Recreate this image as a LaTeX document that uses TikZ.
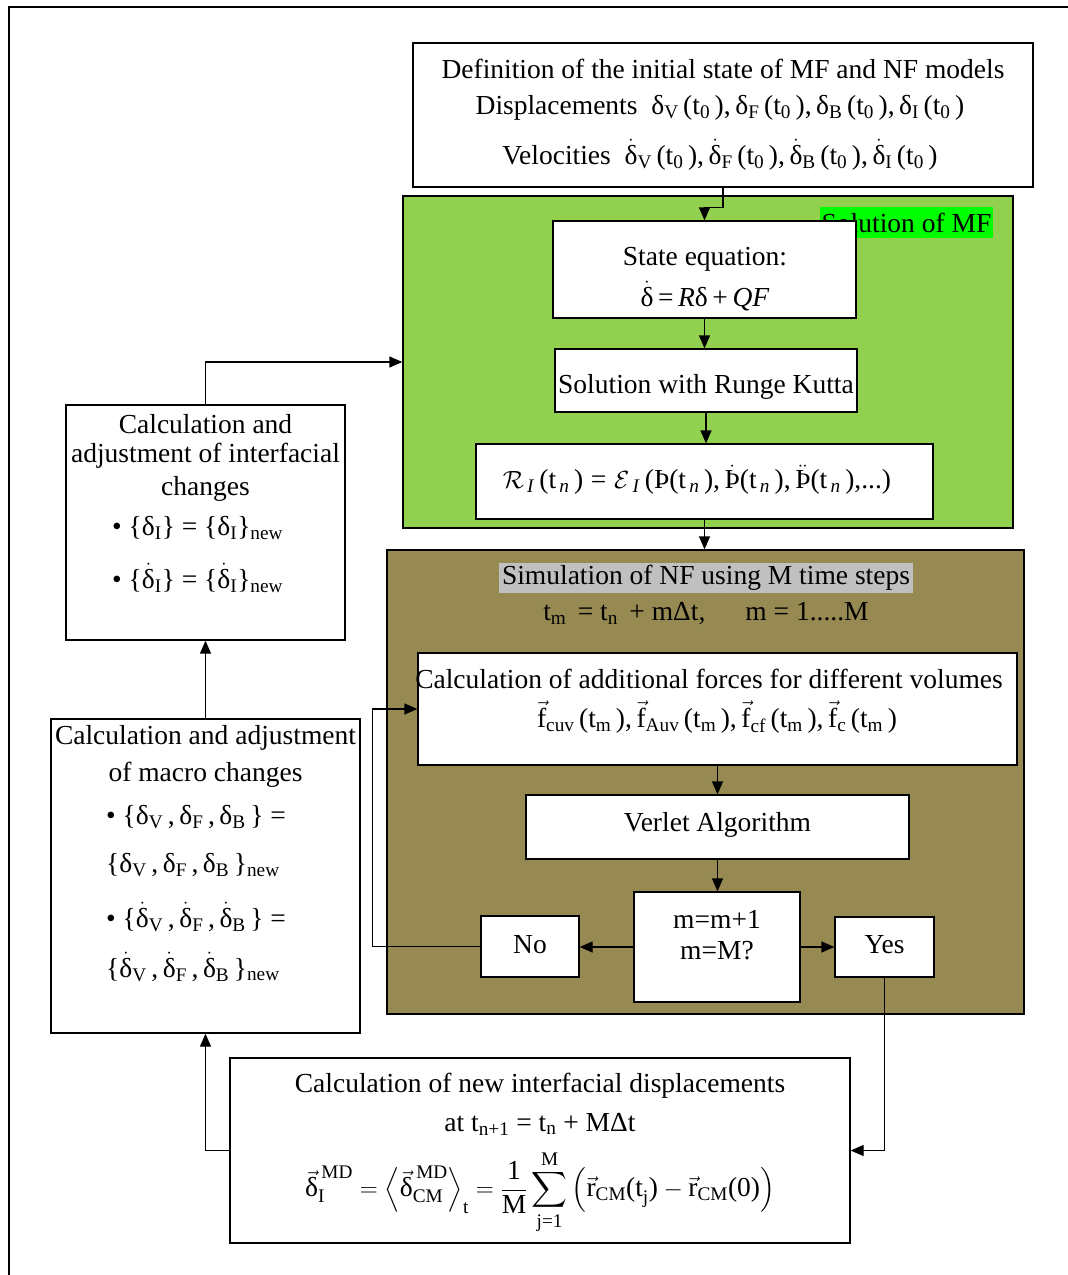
\documentclass[tikz,border=0pt]{standalone}
\usepackage{amsmath}
\usepackage{fontspec}
\setmainfont{Liberation Serif}
\newfontfamily\tnr{Liberation Serif}
\usetikzlibrary{arrows.meta,fit,calc}
\definecolor{mfgreen}{RGB}{146,208,80}
\definecolor{lblgreen}{RGB}{0,255,0}
\definecolor{nfbrown}{RGB}{150,138,82}
\definecolor{lblgray}{RGB}{192,192,192}
\newcommand{\sbs}[1]{\textsubscript{#1}}
\newcommand{\dd}{$\dot{\text{δ}}$}
\newcommand{\vf}{$\vec{\text{f}}$}
\newcommand{\tz}{(t\sbs{0}\,)}
\newcommand{\tmm}{\,(t\sbs{m}\,)}
\newcommand{\tn}{(t\sbs{\,\textit{n}}\,)}
\begin{document}
\begin{tikzpicture}[x=1pt,y=-1pt,
  box/.style={draw=black, line width=1.3pt, fill=white, inner sep=0pt},
  txt/.style={font=\tnr\fontsize{27.5}{33}\selectfont, inner sep=0pt, align=center},
  arr/.style={line width=1.3pt, -{Triangle[length=13pt,width=11pt]}},
  ln/.style={line width=1.3pt}]
\useasboundingbox (0,0) rectangle (1068,1275);
\draw[ln] (9,1275) -- (9,7) -- (1068,7);

% top box
\node[box, fit={(413,43) (1033,187)}] (top) {};
\node[txt] (topa) at (723,69) {Definition of the initial state of MF and NF models};
\node[txt] (topb) at (720,108) {Displacements \ δ\sbs{V}\,\tz,\,δ\sbs{F}\,\tz,\,δ\sbs{B}\,\tz,\,δ\sbs{I}\,\tz};
\node[txt] (topc) at (720,155) {Velocities \ \dd\sbs{V}\,\tz,\,\dd\sbs{F}\,\tz,\,\dd\sbs{B}\,\tz,\,\dd\sbs{I}\,\tz};

% MF green region
\node[box, fill=mfgreen, fit={(403,196) (1013,528)}] (mf) {};
\node[txt, fill=lblgreen, minimum width=173pt, minimum height=31pt] (mflbl) at (906.5,222.5) {Solution of MF};
\node[box, fit={(553,221) (856,318)}] (state) {};
\node[txt] (statea) at (705,259) {State equation:};
\node[txt] (stateb) at (705,296) {\dd\,=\,\textit{R}δ\,+\,\textit{QF}};
\node[box, fit={(555,349) (857,412)}] (runge) {};
\node[txt] (runget) at (706,387) {Solution with Runge Kutta};
\node[box, fit={(476,444) (933,519)}] (ri) {};
\node[txt] (rit) at (697,480) {$\mathcal{R}$\sbs{\,\textit{I}}\,\tn\;=\;$\mathcal{E}$\sbs{\,\textit{I}}\,(Þ\tn,\,$\dot{\text{Þ}}$\tn,\,$\ddot{\text{Þ}}$\tn,...)};

% NF brown region
\node[box, fill=nfbrown, fit={(387,550) (1024,1014)}] (nf) {};
\node[txt, fill=lblgray, minimum width=414pt, minimum height=30pt] (nflbl) at (706,578) {Simulation of NF using M time steps};
\node[txt] (nftm) at (706,614) {t\sbs{m}\, = t\sbs{n}\, + mΔt,\hspace{40pt}m = 1.....M};
\node[box, fit={(418,653) (1017,765)}] (forces) {};
\node[txt] (forcesa) at (709,679) {Calculation of additional forces for different volumes};
\node[txt] (forcesb) at (717,717) {\vf\sbs{cuv}\tmm,\,\vf\sbs{Auv}\tmm,\,\vf\sbs{cf}\tmm,\,\vf\sbs{c}\tmm};
\node[box, fit={(526,795) (909,859)}] (verlet) {};
\node[txt] (verlett) at (717.5,825) {Verlet Algorithm};
\node[box, fit={(634,892) (800,1002)}] (mbox) {};
\node[txt] (mboxa) at (717,919) {m=m+1};
\node[txt] (mboxb) at (717,951) {m=M?};
\node[box, fit={(481,916) (579,977)}] (no) {};
\node[txt] (not) at (530,945) {No};
\node[box, fit={(835,917) (934,977)}] (yes) {};
\node[txt] (yest) at (884.5,945) {Yes};

% bottom box
\node[box, fit={(230,1058) (850,1243)}] (bottom) {};
\node[txt] (bota) at (540,1086) {Calculation of new interfacial displacements};
\node[txt] (botb) at (540,1124) {at t\sbs{n+1} = t\sbs{n} + MΔt};
\node[txt] (botc) at (540,1192) {$\displaystyle \vec{\text{δ}}^{\,\text{MD}}_{\text{I}} = \left\langle \vec{\text{δ}}^{\,\text{MD}}_{\text{CM}} \right\rangle_{\text{t}} = \frac{\text{1}}{\text{M}}\sum_{\text{j=1}}^{\text{M}}\Big(\vec{\text{r}}_{\text{CM}}\text{(t}_{\text{j}}\text{)} - \vec{\text{r}}_{\text{CM}}\text{(0)}\Big)$};

% macro box
\node[box, fit={(51,719) (360,1033)}] (macro) {};
\node[txt] (macroa) at (205.5,738) {Calculation and adjustment};
\node[txt] (macrob) at (205.5,775) {of macro changes};
\node[txt, anchor=west] (macroc) at (106,817) {\textbullet\ \{δ\sbs{V}\,,\,δ\sbs{F}\,,\,δ\sbs{B}\,\} =};
\node[txt, anchor=west] (macrod) at (106,865) {\{δ\sbs{V}\,,\,δ\sbs{F}\,,\,δ\sbs{B}\,\}\sbs{new}};
\node[txt, anchor=west] (macroe) at (106,917) {\textbullet\ \{\dd\sbs{V}\,,\,\dd\sbs{F}\,,\,\dd\sbs{B}\,\} =};
\node[txt, anchor=west] (macrof) at (106,967) {\{\dd\sbs{V}\,,\,\dd\sbs{F}\,,\,\dd\sbs{B}\,\}\sbs{new}};

% interfacial box
\node[box, fit={(66,405) (345,640)}] (interf) {};
\node[txt] (interft1) at (205.5,424) {Calculation and};
\node[txt] (interft2) at (205.5,456) {adjustment of interfacial};
\node[txt] (interft3) at (205.5,489) {changes};
\node[txt, anchor=west] (interfb) at (112,528) {\textbullet\ \{δ\sbs{I}\} = \{δ\sbs{I}\}\sbs{new}};
\node[txt, anchor=west] (interfc) at (112,578) {\textbullet\ \{\dd\sbs{I}\} = \{\dd\sbs{I}\}\sbs{new}};

% connectors
\draw[arr] (top.south) -- ++(0,20) -| (state.north);
\draw[arr] (state.south) -- (state.south |- runge.north);
\draw[arr] (runge.south) -- (runge.south |- ri.north);
\draw[arr] (ri.south) -- (ri.south |- nf.north);
\draw[arr] (forces.south) -- (verlet.north);
\draw[arr] (verlet.south) -- (verlet.south |- mbox.north);
\draw[arr] (mbox.west) -- (mbox.west -| no.east);
\draw[arr] (mbox.east) -- (mbox.east -| yes.west);
\draw[arr] (no.west) -- ++(-108,0) |- (forces.west);
\draw[arr] (yes.south) |- (bottom.east);
\draw[arr] (bottom.west) -| (macro.south);
\draw[arr] (macro.north) -- (interf.south);
\draw[arr] (interf.north) |- (mf.west);
\end{tikzpicture}
\end{document}
